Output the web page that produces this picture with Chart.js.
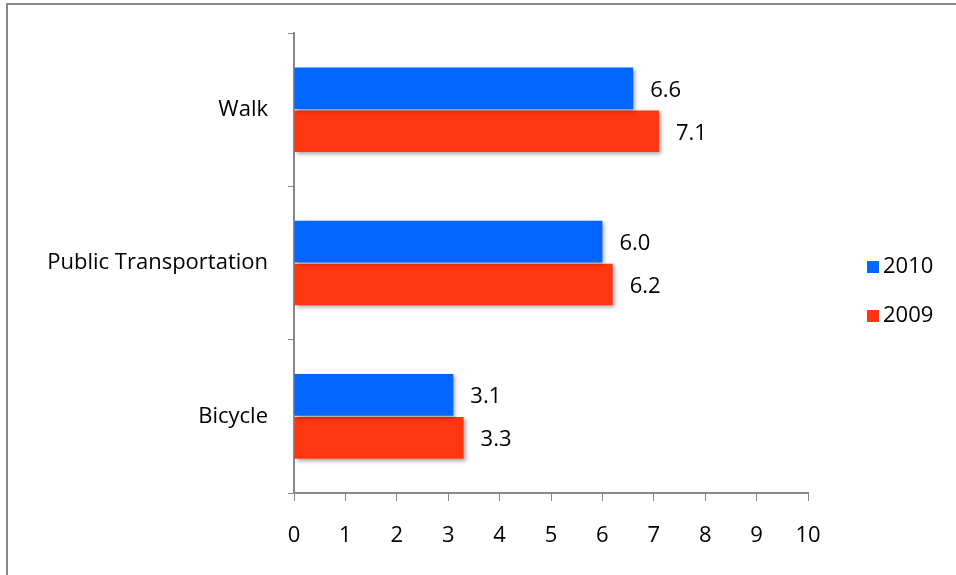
<!DOCTYPE html>
<html lang="en">

<head>
  <meta charset="UTF-8" />
  <title>Commute</title>
  <script src="https://cdn.jsdelivr.net/npm/chart.js"></script>
  <style>
    body { margin: 0; background: #fff; }
    .frame { position: relative; width: 956px; height: 575px; overflow: hidden; }
    .frame .edge { position: absolute; left: 6px; top: 3px; width: 1000px; height: 1000px;
      border-left: 2px solid #888; border-top: 2px solid #888; }
    canvas { position: absolute; left: 0; top: 0; }
  </style>
</head>

<body>
  <div class="frame">
    <div class="edge"></div>
    <canvas id="modeChart" width="956" height="575"></canvas>
  </div>

  <script>
    const categories = ['Walk', 'Public Transportation', 'Bicycle'];
    const values2010 = [6.6, 6.0, 3.1];
    const values2009 = [7.1, 6.2, 3.3];
    const xTicks = [0, 1, 2, 3, 4, 5, 6, 7, 8, 9, 10];

    const FONT = '"Open Sans"';
    const FSIZE = 22;
    const blue = '#0366FF';
    const red = '#FF360F';

    // soft drop shadow under the bars
    const barShadow = {
      id: 'barShadow',
      beforeDatasetsDraw(chart) {
        const c = chart.ctx;
        c.save();
        c.shadowColor = 'rgba(0,0,0,0.35)';
        c.shadowBlur = 4;
        c.shadowOffsetX = 2;
        c.shadowOffsetY = 2;
      },
      afterDatasetsDraw(chart) {
        chart.ctx.restore();
      }
    };

    // numbers at the end of each bar
    const valueLabels = {
      id: 'valueLabels',
      afterDatasetsDraw(chart) {
        const c = chart.ctx;
        c.save();
        c.font = FSIZE + 'px ' + FONT;
        c.fillStyle = '#000';
        c.textBaseline = 'middle';
        c.textAlign = 'left';
        chart.data.datasets.forEach((ds, i) => {
          chart.getDatasetMeta(i).data.forEach((bar, j) => {
            c.fillText(ds.data[j].toFixed(1), bar.x + 17, bar.y + 2);
          });
        });
        c.restore();
      }
    };

    // legend on the right, 2010 above 2009
    const sideLegend = {
      id: 'sideLegend',
      afterDraw(chart) {
        const c = chart.ctx;
        c.save();
        c.font = FSIZE + 'px ' + FONT;
        c.textBaseline = 'middle';
        const x = 867;
        const ys = [267, 316];
        chart.data.datasets.forEach((ds, i) => {
          c.fillStyle = ds.backgroundColor;
          c.fillRect(x, ys[i] - 6, 12, 12);
          c.fillStyle = '#000';
          c.fillText(ds.label, x + 16, ys[i]);
        });
        c.restore();
      }
    };

    new Chart(document.getElementById('modeChart'), {
      type: 'bar',
      data: {
        labels: categories,
        datasets: [
          { label: '2010', data: values2010, backgroundColor: blue },
          { label: '2009', data: values2009, backgroundColor: red }
        ]
      },
      options: {
        indexAxis: 'y',
        responsive: false,
        animation: false,
        categoryPercentage: 0.56,
        barPercentage: 0.97,
        layout: { padding: { top: 32, right: 148, left: 0, bottom: 0 } },
        plugins: { legend: { display: false }, tooltip: { enabled: false } },
        scales: {
          x: {
            min: 0,
            max: 10,
            afterBuildTicks(axis) { axis.ticks = xTicks.map(v => ({ value: v })); },
            afterFit(axis) { axis.height = 82; },
            border: { color: '#888', width: 2 },
            grid: { drawOnChartArea: false, drawTicks: true, tickLength: 8, color: '#888', lineWidth: 1 },
            ticks: { color: '#000', font: { family: FONT, size: FSIZE }, padding: 22, maxRotation: 0 }
          },
          y: {
            afterFit(axis) { axis.width = 294; },
            border: { color: '#888', width: 2 },
            grid: { offset: true, drawOnChartArea: false, drawTicks: true, tickLength: 6, color: '#888', lineWidth: 1 },
            ticks: { color: '#000', font: { family: FONT, size: FSIZE }, padding: 20 }
          }
        }
      },
      plugins: [barShadow, valueLabels, sideLegend]
    });
  </script>
</body>

</html>
